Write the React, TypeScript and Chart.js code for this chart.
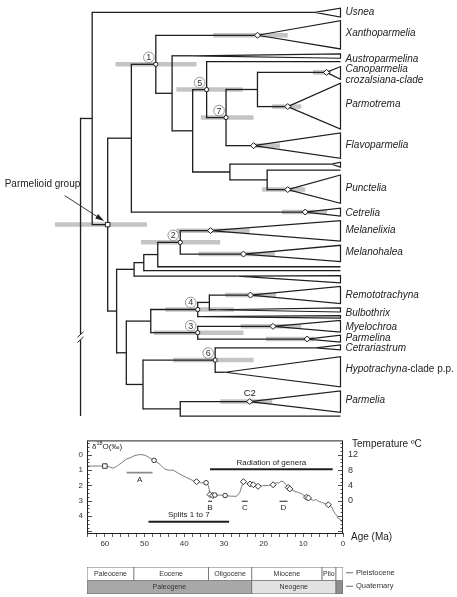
import React, { useEffect, useRef } from "react";
import { Chart, registerables } from "chart.js";

Chart.register(...registerables);

const FONT = "'Liberation Sans', Arial, Helvetica, sans-serif";
const INK = "#1e1e1e";
const HPD = "#c4c4c4";

// ---------------- Tree: internal nodes (ages in Ma) ----------------
const nodeIds = ["root", "A", "parmelioid", "B", "n1", "C", "D", "n5", "n7", "E", "F", "G", "H", "I", "J", "K", "n2", "L", "M", "n4", "N", "n3", "O", "n6", "P"];
const nodeAges = [67.0, 64.0, 60.0, 53.9, 47.6, 43.4, 38.1, 34.5, 29.5, 21.4, 28.5, 18.9, 57.7, 53.2, 50.7, 47.1, 41.3, 55.2, 48.9, 36.8, 33.8, 36.8, 50.9, 32.3, 41.3];
const nodeParents = ["", "root", "A", "parmelioid", "B", "n1", "C", "D", "n5", "n7", "D", "F", "parmelioid", "H", "I", "J", "K", "H", "L", "M", "n4", "M", "L", "O", "O"];
const nodeMarkers = ["", "", "square", "", "circle", "", "", "circle", "circle", "", "", "", "", "", "", "", "circle", "", "", "circle", "", "circle", "", "circle", ""];
const rootStemEndRow = 420;
const rootBreakRow = 340;

// ---------------- Tree: tips ----------------
const tipNames = ["Usnea", "Xanthoparmelia", "Austroparmelina", "t4", "Canoparmelia", "Parmotrema", "Flavoparmelia", "t8", "t9", "Punctelia", "Cetrelia", "Melanelixia", "Melanohalea", "t14", "t15", "t16", "Remototrachyna", "Bulbothrix", "t19", "Myelochroa", "Parmelina", "Cetrariastrum", "Hypotrachyna", "Parmelia", "t25"];
const tipRows = [7.5, 31, 52, 58, 69, 104, 144, 163, 169, 189, 212, 231, 255, 268, 272, 277.5, 297, 312, 319, 329, 342, 351, 376, 406, 421];
const tipParents = ["A", "n1", "C", "n5", "E", "E", "n7", "F", "G", "G", "B", "n2", "n2", "K", "J", "I", "N", "N", "n4", "n3", "n3", "n6", "n6", "P", "P"];
const tipCrownAges: (number | null)[] = [6.6, 21.4, 38, null, 3.6, 13.6, 22.4, 2.3, null, 13.6, 9.1, 33.5, 25.0, null, null, 26.5, 23.2, 32, 36, 17.4, 8.6, 6.3, 29.7, 23.4, null];
const tipSpreadUp = [4.2, 15, 2, 0, 6, 24, 13, 2, 0, 15, 4, 10.3, 9, 0, 0, 0.5, 9, 2, 1, 6, 4, 3, 16, 11, 0];
const tipSpreadDown = [4.8, 14, 2.5, 0, 7, 23, 13, 3, 0, 14, 4, 10.7, 7.7, 0, 0, 7, 8.7, 2.3, 1.5, 6, 3, 2, 15, 11, 0];
const tipDiamond = [false, true, false, false, true, true, true, false, false, true, true, true, true, false, false, false, true, false, false, true, true, false, false, true, false];

// ---------------- Tree: 95% age intervals (grey bars) ----------------
const hpdTargets = ["n1", "Xanthoparmelia", "n5", "n7", "Canoparmelia", "Parmotrema", "Flavoparmelia", "Punctelia", "Cetrelia", "parmelioid", "Melanelixia", "n2", "Melanohalea", "Remototrachyna", "n4", "n3", "Myelochroa", "Parmelina", "n6", "Parmelia"];
const hpdOld = [58.0, 32.8, 42.3, 36.0, 7.1, 17.6, 22.7, 20.2, 15.1, 73.6, 42.3, 51.4, 36.6, 29.7, 45.1, 48.1, 25.7, 19.2, 43.1, 31.0];
const hpdYoung = [37.1, 13.6, 25.2, 22.4, 2.5, 10.1, 15.6, 9.1, 3.5, 49.9, 23.4, 31.0, 16.9, 16.6, 27.5, 25.0, 10.1, 6.8, 22.4, 17.6];

// ---------------- Tree: numbered splits ----------------
const tagNodes = ["n1", "n2", "n3", "n4", "n5", "n6", "n7"];
const tagTexts = ["1", "2", "3", "4", "5", "6", "7"];
const calibrationTip = "Parmelia";
const calibrationText = "C2";

// ---------------- Tree: tip labels ----------------
const labelTexts = ["Usnea", "Xanthoparmelia", "Austroparmelina", "Canoparmelia", "crozalsiana-clade", "Parmotrema", "Flavoparmelia", "Punctelia", "Cetrelia", "Melanelixia", "Melanohalea", "Remototrachyna", "Bulbothrix", "Myelochroa", "Parmelina", "Cetrariastrum", "Hypotrachyna", "Parmelia"];
const labelSuffixes = ["", "", "", "", "", "", "", "", "", "", "", "", "", "", "", "", "-clade p.p.", ""];
const labelRows = [7.5, 28.5, 55.7, 65.7, 76.5, 101.7, 143.3, 187.5, 212.7, 230.7, 253.5, 296.7, 315.7, 330, 341, 351.5, 373, 404.5];

// ---------------- δ18O curve ----------------
const isoAges = [64.5, 62.0, 60.0, 58.8, 57.9, 56.8, 55.8, 54.5, 53.7, 52.4, 51.2, 49.9, 48.7, 47.6, 46.1, 44.9, 44.0, 42.8, 41.1, 39.4, 37.7, 36.9, 36.0, 34.5, 33.9, 33.5, 32.8, 32.3, 31.0, 29.7, 28.3, 26.8, 26.0, 25.1, 24.3, 23.4, 22.6, 21.4, 20.1, 18.8, 17.6, 16.7, 16.2, 15.6, 15.0, 14.4, 13.8, 13.4, 12.1, 11.3, 10.4, 9.2, 8.7, 7.5, 6.8, 6.2, 5.4, 4.5, 3.7, 2.8, 2.3, 2.0, 1.6, 1.2, 0.7, 0.3, 0];
const isoD18O = [0.74, 0.74, 0.74, 0.80, 0.88, 0.72, 0.53, 0.27, 0.21, 0.05, -0.01, 0.03, 0.21, 0.37, 0.63, 0.95, 1.01, 1.01, 1.27, 1.49, 1.70, 1.76, 1.83, 1.83, 2.02, 2.60, 2.66, 2.63, 2.63, 2.66, 2.70, 2.71, 2.45, 1.76, 1.85, 1.91, 1.96, 2.06, 2.02, 2.00, 1.96, 1.81, 1.86, 1.72, 1.76, 1.95, 2.13, 2.23, 2.40, 2.45, 2.55, 2.77, 2.82, 2.98, 2.92, 3.04, 3.10, 3.19, 3.26, 3.41, 3.70, 3.83, 3.95, 4.15, 4.20, 4.37, 4.40];
const isoSquareAges = [60.0];
const isoSquareD18O = [0.74];
const isoCircleAges = [47.6, 34.5, 32.3, 29.7];
const isoCircleD18O = [0.37, 1.83, 2.63, 2.66];
const isoDiamondAges = [36.9, 33.5, 32.8, 25.1, 23.4, 22.6, 21.4, 17.6, 13.8, 13.4, 9.2, 8.7, 3.7];
const isoDiamondD18O = [1.76, 2.60, 2.66, 1.76, 1.91, 1.96, 2.06, 1.96, 2.13, 2.23, 2.77, 2.82, 3.26];
const isoMin = -0.93;
const isoMax = 5.1;
const isoLabelTicks = [0, 1, 2, 3, 4];
const tempLabelTicks = [0, 4, 8, 12];
const ageLabelTicks = [0, 10, 20, 30, 40, 50, 60];
const ageAxisMax = 64.5;

// events on the curve panel
const eventNames = ["A", "Radiation of genera", "Splits 1 to 7", "B", "C", "D"];
const eventOld = [54.5, 33.5, 49.0, 34.0, 25.5, 16.0];
const eventYoung = [48.0, 2.6, 28.7, 33.0, 24.0, 14.0];
const eventD18O = [1.17, 0.95, 4.36, 3.03, 3.03, 3.03];

// ---------------- Geological time scale ----------------
const epochNames = ["Paleocene", "Eocene", "Oligocene", "Miocene", "Plio", ""];
const epochStart = [64.5, 52.7, 33.9, 23.0, 5.3, 1.8];
const epochEnd = [52.7, 33.9, 23.0, 5.3, 1.8, 0];
const periodNames = ["Paleogene", "Neogene", ""];
const periodStart = [64.5, 23.0, 1.8];
const periodEnd = [23.0, 1.8, 0];

// tree chart age range (wider than the curve panel: root, labels)
const treeAgeLeft = 86.47;
const treeAgeRight = -28.74;

const baseOptions: any = {
  responsive: false,
  animation: false,
  events: [],
  plugins: { legend: { display: false }, tooltip: { enabled: false } },
};

function lineDs(points: { x: number; y: number }[], color: string, width: number, order: number, extra: any = {}) {
  return {
    data: points,
    showLine: true,
    borderColor: color,
    borderWidth: width,
    pointRadius: 0,
    fill: false,
    tension: 0,
    order,
    borderCapStyle: "butt",
    ...extra,
  };
}

function buildTree() {
  const memo: Record<string, number> = {};
  const ageOf = (id: string) => nodeAges[nodeIds.indexOf(id)];
  const childRows = (id: string): number[] => {
    const r: number[] = [];
    nodeIds.forEach((n, i) => {
      if (nodeParents[i] === id) r.push(rowOf(n));
    });
    tipNames.forEach((t, i) => {
      if (tipParents[i] === id) r.push(tipRows[i]);
    });
    if (id === nodeIds[0]) r.push(rootStemEndRow);
    return r;
  };
  const rowOf = (id: string): number => {
    if (memo[id] === undefined) {
      const r = childRows(id);
      memo[id] = (Math.min(...r) + Math.max(...r)) / 2;
    }
    return memo[id];
  };
  const targetPos = (id: string) => {
    const ti = tipNames.indexOf(id);
    if (ti >= 0) return { x: tipCrownAges[ti] as number, y: tipRows[ti] };
    return { x: ageOf(id), y: rowOf(id) };
  };

  const datasets: any[] = [];
  // grey interval bars
  hpdTargets.forEach((t, i) => {
    const p = targetPos(t);
    datasets.push(lineDs([{ x: hpdOld[i], y: p.y }, { x: hpdYoung[i], y: p.y }], HPD, 4.5, 3));
  });
  // node verticals and stems
  nodeIds.forEach((id, i) => {
    const r = childRows(id);
    const a = nodeAges[i];
    datasets.push(lineDs([{ x: a, y: Math.min(...r) }, { x: a, y: Math.max(...r) }], INK, 1.3, 2, { borderCapStyle: "square" }));
    if (nodeParents[i]) {
      const pa = ageOf(nodeParents[i]);
      datasets.push(lineDs([{ x: pa, y: rowOf(id) }, { x: a, y: rowOf(id) }], INK, 1.3, 2));
    }
  });
  // tips
  tipNames.forEach((t, i) => {
    const pa = ageOf(tipParents[i]);
    const crown = tipCrownAges[i];
    const row = tipRows[i];
    datasets.push(lineDs([{ x: pa, y: row }, { x: crown === null ? 0 : crown, y: row }], INK, 1.3, 2));
    if (crown !== null) {
      datasets.push(
        lineDs(
          [
            { x: crown, y: row },
            { x: 0, y: row - tipSpreadUp[i] },
            { x: 0, y: row + tipSpreadDown[i] },
            { x: crown, y: row },
          ],
          INK,
          1.2,
          2,
          { borderJoinStyle: "miter" }
        )
      );
    }
  });
  // markers
  const marker = (pts: any[], style: string, radius: number) => ({
    data: pts,
    pointStyle: style,
    pointRadius: radius,
    pointBackgroundColor: "#ffffff",
    pointBorderColor: INK,
    pointBorderWidth: 1,
    showLine: false,
    order: 1,
  });
  const diamonds: any[] = [];
  tipNames.forEach((t, i) => {
    if (tipDiamond[i]) diamonds.push({ x: tipCrownAges[i], y: tipRows[i] });
  });
  const circles: any[] = [];
  const squares: any[] = [];
  nodeIds.forEach((id, i) => {
    if (nodeMarkers[i] === "circle") circles.push({ x: nodeAges[i], y: rowOf(id) });
    if (nodeMarkers[i] === "square") squares.push({ x: nodeAges[i], y: rowOf(id) });
  });
  datasets.push(marker(diamonds, "rectRot", 3));
  datasets.push(marker(circles, "circle", 2.1));
  datasets.push(marker(squares, "rect", 3.2));
  return { datasets, rowOf, ageOf, targetPos };
}

function TreeChart() {
  const ref = useRef<HTMLCanvasElement>(null);
  useEffect(() => {
    const tree = buildTree();
    const textPlugin = {
      id: "treeText",
      afterDatasetsDraw(chart: any) {
        const { ctx } = chart;
        const xs = chart.scales.x;
        const ys = chart.scales.y;
        ctx.save();
        ctx.fillStyle = "#222";
        ctx.textBaseline = "middle";
        ctx.textAlign = "left";
        const lx = xs.getPixelForValue(0) + 5;
        labelTexts.forEach((t, i) => {
          const py = ys.getPixelForValue(labelRows[i]);
          ctx.font = `italic 10px ${FONT}`;
          ctx.fillText(t, lx, py);
          if (labelSuffixes[i]) {
            const w = ctx.measureText(t).width;
            ctx.font = `10px ${FONT}`;
            ctx.fillText(labelSuffixes[i], lx + w, py);
          }
        });
        // numbered splits
        tagNodes.forEach((id, i) => {
          const cx = xs.getPixelForValue(tree.ageOf(id)) - 7;
          const cy = ys.getPixelForValue(tree.rowOf(id)) - 7;
          ctx.beginPath();
          ctx.arc(cx, cy, 5.3, 0, Math.PI * 2);
          ctx.fillStyle = "#fff";
          ctx.fill();
          ctx.strokeStyle = "#8a8a8a";
          ctx.lineWidth = 0.9;
          ctx.stroke();
          ctx.fillStyle = "#333";
          ctx.font = `9px ${FONT}`;
          ctx.textAlign = "center";
          ctx.fillText(tagTexts[i], cx, cy + 0.5);
        });
        // calibration label
        const cp = tree.targetPos(calibrationTip);
        ctx.font = `9.5px ${FONT}`;
        ctx.textAlign = "center";
        ctx.fillStyle = "#222";
        ctx.fillText(calibrationText, xs.getPixelForValue(cp.x), ys.getPixelForValue(cp.y) - 8.5);
        // parmelioid group label + arrow
        const px = xs.getPixelForValue(tree.ageOf("parmelioid"));
        const py = ys.getPixelForValue(tree.rowOf("parmelioid"));
        ctx.textAlign = "left";
        ctx.font = `10px ${FONT}`;
        ctx.fillText("Parmelioid group", px - 103, py - 40);
        const sx = px - 43, sy = py - 29, ex = px - 3.5, ey = py - 3.5;
        const ang = Math.atan2(ey - sy, ex - sx);
        ctx.strokeStyle = "#222";
        ctx.lineWidth = 0.9;
        ctx.beginPath();
        ctx.moveTo(sx, sy);
        ctx.lineTo(ex - 6 * Math.cos(ang), ey - 6 * Math.sin(ang));
        ctx.stroke();
        ctx.beginPath();
        ctx.moveTo(ex, ey);
        ctx.lineTo(ex - 9 * Math.cos(ang) + 2.6 * Math.sin(ang), ey - 9 * Math.sin(ang) - 2.6 * Math.cos(ang));
        ctx.lineTo(ex - 9 * Math.cos(ang) - 2.6 * Math.sin(ang), ey - 9 * Math.sin(ang) + 2.6 * Math.cos(ang));
        ctx.closePath();
        ctx.fillStyle = "#222";
        ctx.fill();
        // break mark on the root stem
        const bx = xs.getPixelForValue(nodeAges[0]);
        const by = ys.getPixelForValue(rootBreakRow);
        ctx.fillStyle = "#fff";
        ctx.fillRect(bx - 4, by - 3, 8, 6);
        ctx.strokeStyle = INK;
        ctx.lineWidth = 1;
        [-2.6, 2.6].forEach((d) => {
          ctx.beginPath();
          ctx.moveTo(bx - 3, by + d + 2.8);
          ctx.lineTo(bx + 3, by + d - 2.8);
          ctx.stroke();
        });
        ctx.restore();
      },
    };
    const chart = new Chart(ref.current as HTMLCanvasElement, {
      type: "scatter",
      data: { datasets: tree.datasets },
      options: {
        ...baseOptions,
        layout: { padding: 0 },
        scales: {
          x: { type: "linear", min: treeAgeRight, max: treeAgeLeft, reverse: true, display: false },
          y: { type: "linear", min: 0, max: 430, reverse: true, display: false },
        },
      },
      plugins: [textPlugin],
    } as any);
    return () => chart.destroy();
  }, []);
  return <canvas ref={ref} width={457} height={430} style={{ position: "absolute", left: 0, top: 0, width: 457, height: 430 }} />;
}

function IsoChart() {
  const ref = useRef<HTMLCanvasElement>(null);
  useEffect(() => {
    const pts = (a: number[], d: number[]) => a.map((x, i) => ({ x, y: d[i] }));
    const marker = (data: any[], style: string, radius: number) => ({
      data,
      pointStyle: style,
      pointRadius: radius,
      pointBackgroundColor: "#fff",
      pointBorderColor: "#222",
      pointBorderWidth: 0.9,
      showLine: false,
      order: 0,
      yAxisID: "y",
    });
    const datasets: any[] = [];
    datasets.push(lineDs(pts(isoAges, isoD18O), "#7c7c7c", 1, 2, { yAxisID: "y" }));
    eventNames.forEach((n, i) => {
      const color = i === 0 ? "#8a8a8a" : "#1e1e1e";
      const w = i === 1 || i === 2 ? 2 : i === 0 ? 1.6 : 1.1;
      datasets.push(lineDs([{ x: eventOld[i], y: eventD18O[i] }, { x: eventYoung[i], y: eventD18O[i] }], color, w, 1, { yAxisID: "y" }));
    });
    datasets.push(marker(pts(isoSquareAges, isoSquareD18O), "rect", 3.2));
    datasets.push(marker(pts(isoCircleAges, isoCircleD18O), "circle", 2.3));
    datasets.push(marker(pts(isoDiamondAges, isoDiamondD18O), "rectRot", 3));

    const panelPlugin = {
      id: "panel",
      afterDraw(chart: any) {
        const { ctx, chartArea: ca } = chart;
        const xs = chart.scales.x;
        const ys = chart.scales.y;
        const ts = chart.scales.yT;
        ctx.save();
        ctx.strokeStyle = "#222";
        ctx.lineWidth = 1;
        ctx.strokeRect(ca.left + 0.5, ca.top + 0.5, ca.right - ca.left - 1, ca.bottom - ca.top);
        ctx.lineWidth = 0.8;
        // inner ticks, left (δ18O)
        for (let k = -3; k <= 20; k++) {
          const v = k / 4;
          if (v <= isoMin || v >= isoMax) continue;
          const y = Math.round(ys.getPixelForValue(v)) + 0.5;
          const len = k % 4 === 0 ? 5 : 2.5;
          ctx.beginPath();
          ctx.moveTo(ca.left, y);
          ctx.lineTo(ca.left + len, y);
          ctx.stroke();
        }
        // inner ticks, right (temperature)
        for (let t = -8; t <= 15; t++) {
          const y = Math.round(ts.getPixelForValue(t)) + 0.5;
          const len = t % 4 === 0 ? 5 : 2.5;
          ctx.beginPath();
          ctx.moveTo(ca.right, y);
          ctx.lineTo(ca.right - len, y);
          ctx.stroke();
        }
        ctx.fillStyle = "#222";
        ctx.textBaseline = "middle";
        // δ18O title
        let tx = ca.left + 5;
        const ty = ca.top + 6;
        ctx.textAlign = "left";
        ctx.font = `8px ${FONT}`;
        ctx.fillText("δ", tx, ty);
        tx += ctx.measureText("δ").width;
        ctx.font = `5.5px ${FONT}`;
        ctx.fillText("18", tx, ty - 2.5);
        tx += ctx.measureText("18").width;
        ctx.font = `8px ${FONT}`;
        ctx.fillText("O(‰)", tx, ty);
        // axis titles
        ctx.font = `10px ${FONT}`;
        ctx.fillText("Temperature ºC", ca.right + 9, ca.top + 4);
        ctx.fillText("Age (Ma)", ca.right + 8, ca.bottom + 4);
        // event labels
        eventNames.forEach((n, i) => {
          const cx = xs.getPixelForValue((eventOld[i] + eventYoung[i]) / 2);
          const cy = ys.getPixelForValue(eventD18O[i]);
          ctx.textAlign = "center";
          ctx.font = `8px ${FONT}`;
          if (i === 1 || i === 2) ctx.fillText(n, cx, cy - 6.5);
          else ctx.fillText(n, cx, cy + 7);
        });
        ctx.restore();
      },
    };

    const chart = new Chart(ref.current as HTMLCanvasElement, {
      type: "scatter",
      data: { datasets },
      options: {
        ...baseOptions,
        layout: { padding: { top: 9, left: 0, right: 0, bottom: 0 } },
        scales: {
          x: {
            type: "linear",
            min: 0,
            max: ageAxisMax,
            reverse: true,
            position: "bottom",
            afterFit: (s: any) => {
              s.height = 27;
            },
            ticks: {
              stepSize: 2,
              autoSkip: false,
              maxRotation: 0,
              padding: 2,
              color: "#333",
              font: { size: 8, family: FONT },
              callback: (v: any) => (ageLabelTicks.includes(v) ? String(v) : ""),
            },
            grid: { drawOnChartArea: false, drawTicks: true, tickLength: 4, color: "#333", lineWidth: 0.8 },
            border: { display: true, color: "#222", width: 1 },
          },
          y: {
            type: "linear",
            position: "left",
            reverse: true,
            min: isoMin,
            max: isoMax,
            afterFit: (s: any) => {
              s.width = 87;
            },
            ticks: {
              stepSize: 1,
              autoSkip: false,
              padding: 4,
              color: "#333",
              font: { size: 8, family: FONT },
              callback: (v: any) => (isoLabelTicks.includes(v) ? String(v) : ""),
            },
            grid: { display: false, drawTicks: false },
            border: { display: false },
          },
          yT: {
            type: "linear",
            position: "right",
            min: 12 - 4 * isoMax,
            max: 12 - 4 * isoMin,
            afterFit: (s: any) => {
              s.width = 114;
            },
            ticks: {
              stepSize: 4,
              autoSkip: false,
              padding: 5,
              color: "#333",
              font: { size: 9, family: FONT },
              callback: (v: any) => (tempLabelTicks.includes(v) ? String(v) : ""),
            },
            grid: { display: false, drawTicks: false },
            border: { display: false },
          },
        },
      },
      plugins: [panelPlugin],
    } as any);
    return () => chart.destroy();
  }, []);
  return <canvas ref={ref} width={457} height={130} style={{ position: "absolute", left: 0, top: 430, width: 457, height: 130 }} />;
}

function TimeChart() {
  const ref = useRef<HTMLCanvasElement>(null);
  useEffect(() => {
    const periodColors = ["#a8a8a8", "#e2e2e2", "#8e8e8e"];
    const datasets: any[] = [];
    epochNames.forEach((n, i) => {
      datasets.push({
        data: [[epochStart[i], epochEnd[i]], null],
        backgroundColor: "#ffffff",
        borderColor: "#6a6a6a",
        borderWidth: 0.8,
        borderSkipped: false,
        grouped: false,
        barPercentage: 1,
        categoryPercentage: 1,
      });
    });
    periodNames.forEach((n, i) => {
      datasets.push({
        data: [null, [periodStart[i], periodEnd[i]]],
        backgroundColor: periodColors[i],
        borderColor: "#6a6a6a",
        borderWidth: 0.8,
        borderSkipped: false,
        grouped: false,
        barPercentage: 1,
        categoryPercentage: 1,
      });
    });
    const textPlugin = {
      id: "timeText",
      afterDraw(chart: any) {
        const { ctx, chartArea: ca } = chart;
        const xs = chart.scales.x;
        const ys = chart.scales.y;
        ctx.save();
        ctx.fillStyle = "#333";
        ctx.textAlign = "center";
        ctx.textBaseline = "middle";
        ctx.font = `7px ${FONT}`;
        const yE = ys.getPixelForValue(0);
        const yP = ys.getPixelForValue(1);
        epochNames.forEach((n, i) => {
          if (n) ctx.fillText(n, xs.getPixelForValue((epochStart[i] + epochEnd[i]) / 2), yE);
        });
        periodNames.forEach((n, i) => {
          if (n) ctx.fillText(n, xs.getPixelForValue((periodStart[i] + periodEnd[i]) / 2), yP);
        });
        ctx.textAlign = "left";
        ctx.font = `7.5px ${FONT}`;
        ctx.strokeStyle = "#444";
        ctx.lineWidth = 0.8;
        [["Pleistocene", yE - 1], ["Quaternary", yP - 1]].forEach(([t, y]: any) => {
          ctx.beginPath();
          ctx.moveTo(ca.right + 3, y);
          ctx.lineTo(ca.right + 10, y);
          ctx.stroke();
          ctx.fillText(t, ca.right + 13, y);
        });
        ctx.restore();
      },
    };
    const chart = new Chart(ref.current as HTMLCanvasElement, {
      type: "bar",
      data: { labels: ["Epoch", "Period"], datasets },
      options: {
        ...baseOptions,
        indexAxis: "y",
        layout: { padding: { left: 87, right: 114, top: 7, bottom: 3 } },
        scales: {
          x: { type: "linear", min: 0, max: ageAxisMax, reverse: true, display: false },
          y: { type: "category", display: false },
        },
      },
      plugins: [textPlugin],
    } as any);
    return () => chart.destroy();
  }, []);
  return <canvas ref={ref} width={457} height={37} style={{ position: "absolute", left: 0, top: 560, width: 457, height: 37 }} />;
}

export default function App() {
  return (
    <div style={{ position: "absolute", left: 0, top: 0, width: 457, height: 597, background: "#fff", overflow: "hidden" }}>
      <TreeChart />
      <IsoChart />
      <TimeChart />
    </div>
  );
}
